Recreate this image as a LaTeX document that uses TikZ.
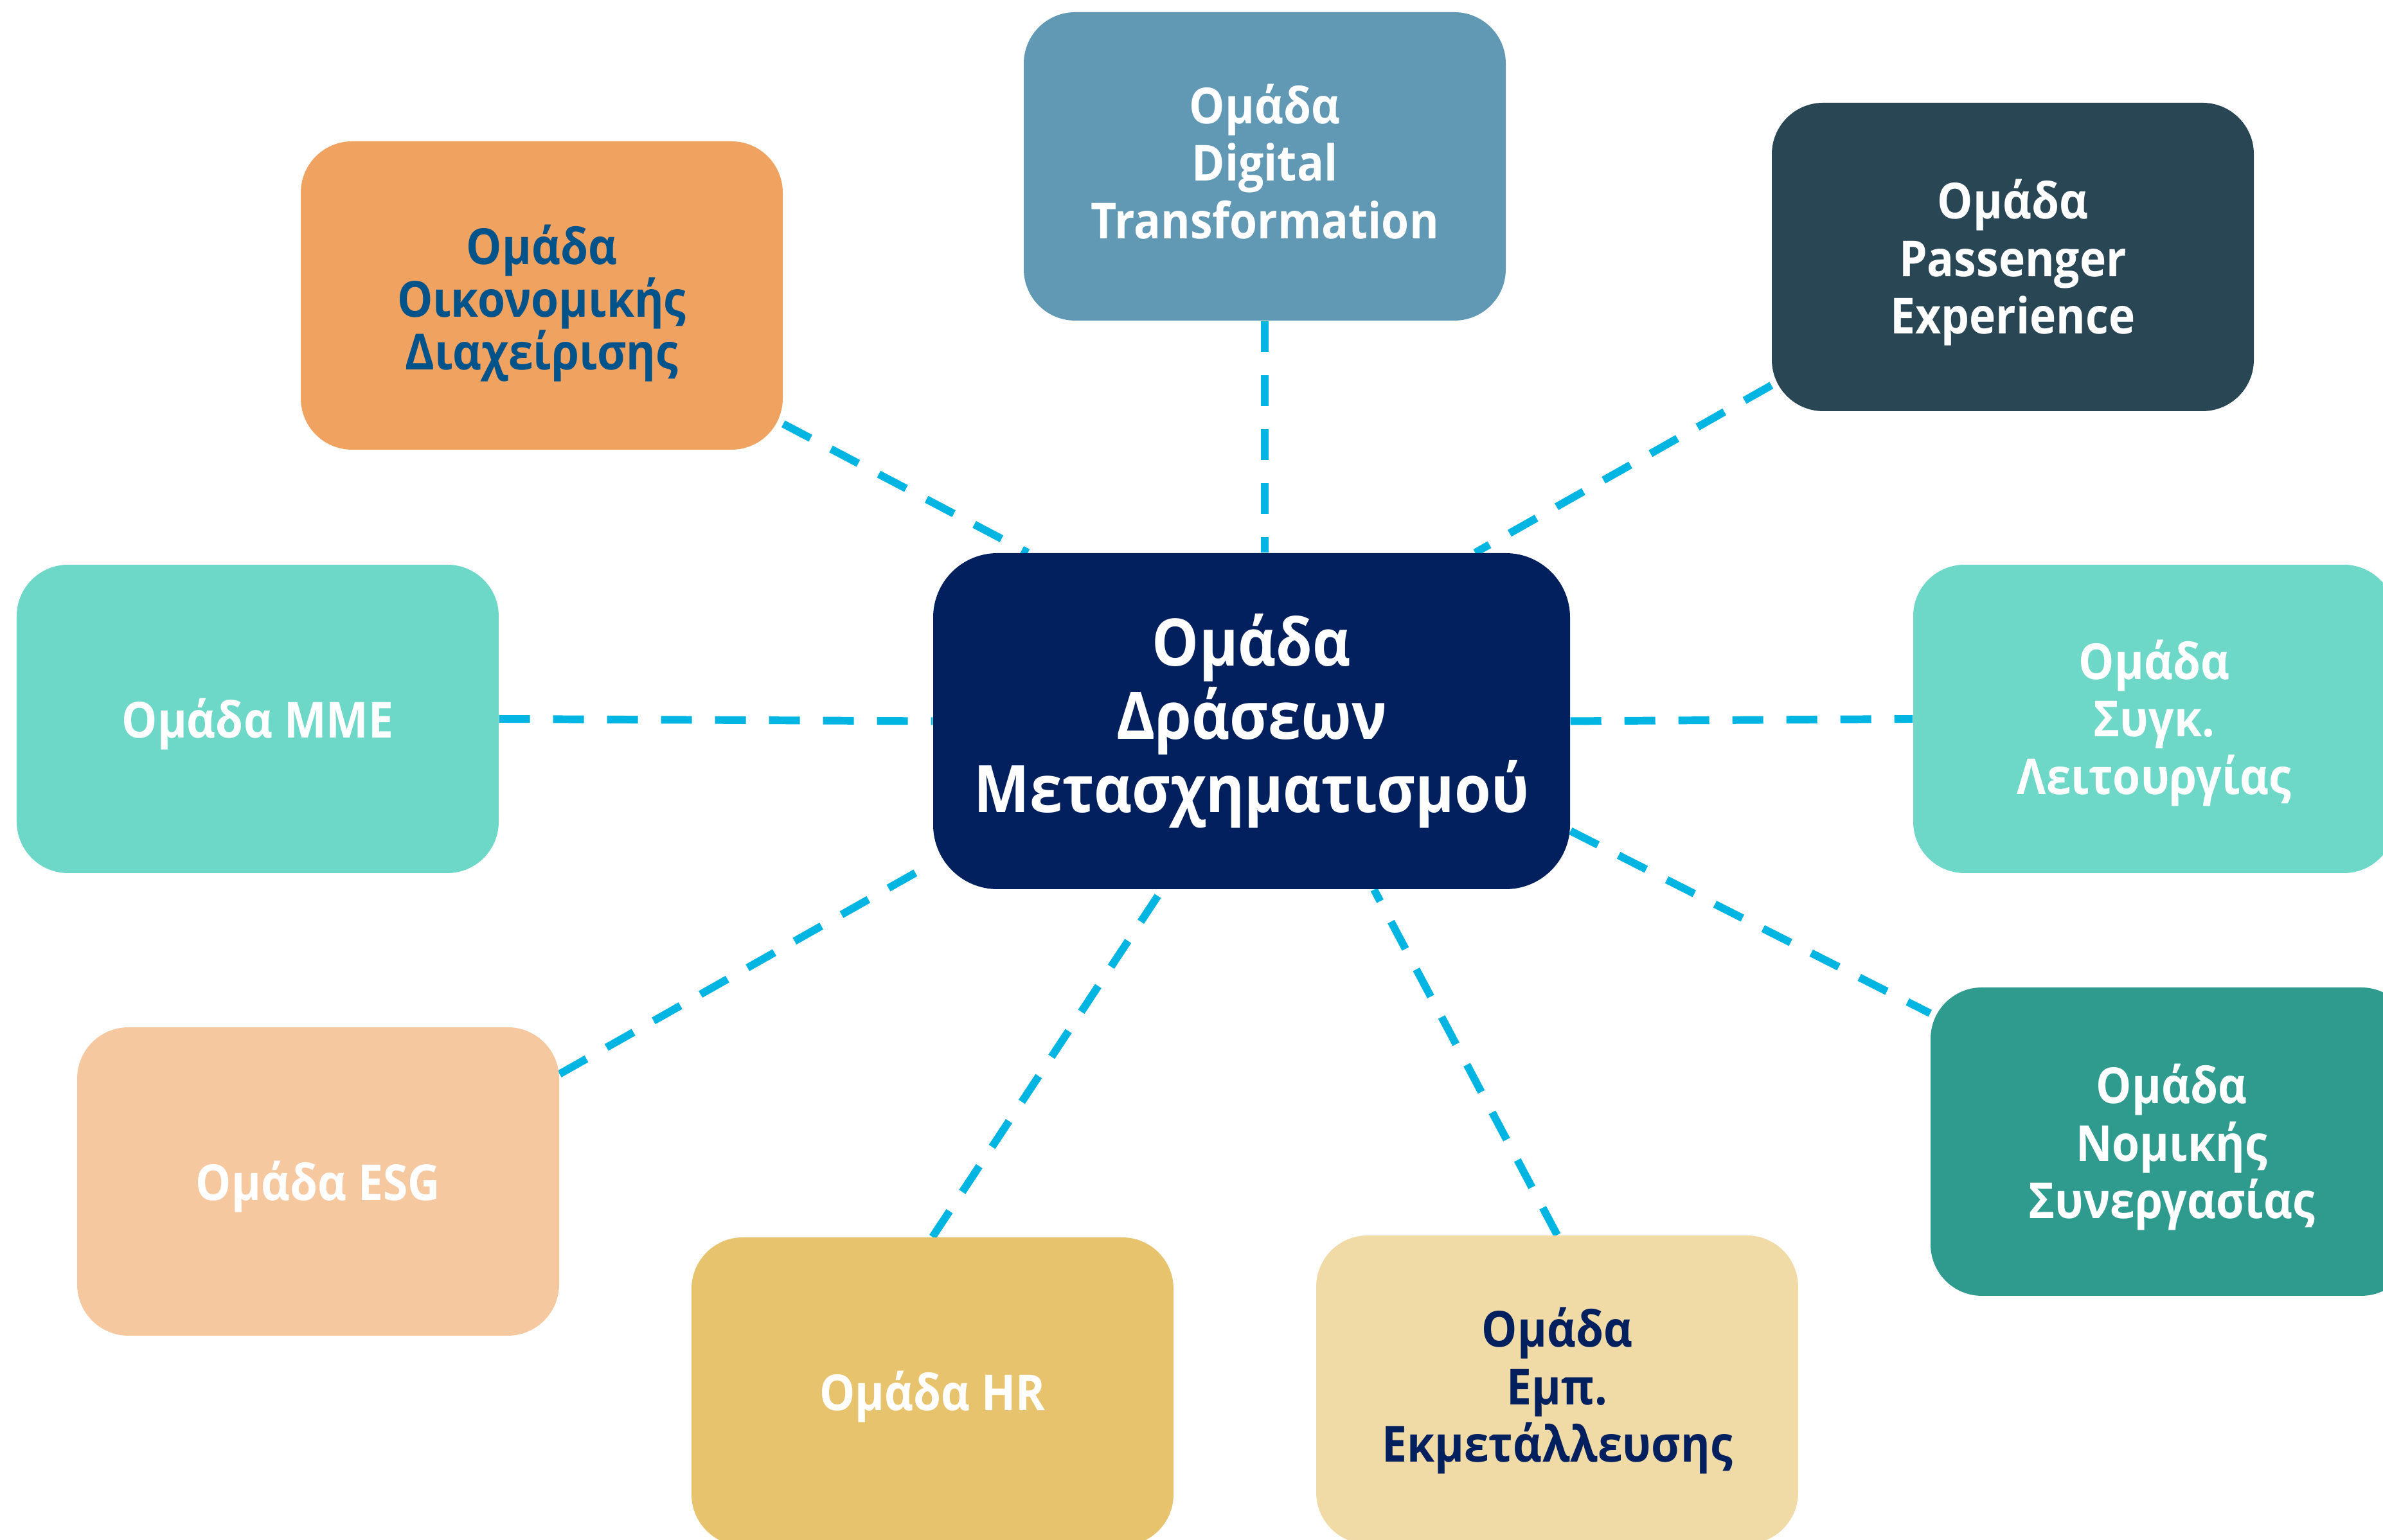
\documentclass[tikz,border=0pt]{standalone}
\usepackage{fontspec}
\setmainfont{Open Sans}[FakeStretch=0.9]
\usetikzlibrary{backgrounds}

\definecolor{navy}{HTML}{021F5E}
\definecolor{steel}{HTML}{6199B5}
\definecolor{slate}{HTML}{284654}
\definecolor{orange}{HTML}{F0A360}
\definecolor{finblue}{HTML}{01538A}
\definecolor{aqua}{HTML}{6DD8C8}
\definecolor{teal}{HTML}{2E9B8E}
\definecolor{peach}{HTML}{F6C8A0}
\definecolor{gold}{HTML}{E7C36E}
\definecolor{sand}{HTML}{F0DBA6}
\definecolor{linkblue}{HTML}{00B5E2}

% invisible strut on the first line, pushes the text a little down
\newcommand{\padtop}[1]{\rule{0pt}{#1}}

\tikzset{
  team/.style={rounded corners=0.8cm, minimum width=7.5cm, minimum height=4.8cm,
    inner sep=0pt, align=center, text=white,
    font=\fontsize{22}{25.5}\selectfont\bfseries},
  hub/.style={rounded corners=1cm, minimum width=9.91cm, minimum height=5.23cm,
    inner sep=0pt, align=center, text=white, fill=navy,
    font=\fontsize{29}{32.4}\selectfont\bfseries},
  link/.style={draw=linkblue, line width=3.4pt, dash pattern=on 0.48cm off 0.36cm},
}

\begin{document}
\begin{tikzpicture}
\useasboundingbox (0,0) rectangle (37.08,23.97);

% central group
\node[hub] (ctr) at (19.475,12.745) {Ομάδα\\Δράσεων\\Μετασχηματισμού};

% top row
\node[team, fill=orange, text=finblue, font=\fontsize{22}{23.3}\selectfont\bfseries]
  (fin) at (8.43,19.37) {\padtop{0.86cm}Ομάδα\\Οικονομικής\\Διαχείρισης};
\node[team, fill=steel, execute at end node={\rule[-0.16cm]{0pt}{0pt}}]
  (dig) at (19.68,21.38) {Ομάδα\\Digital\\Transformation};
\node[team, fill=slate] (pax) at (31.32,19.97) {\padtop{0.79cm}Ομάδα\\Passenger\\Experience};

% middle row
\node[team, fill=aqua] (mme) at (4.01,12.78) {\padtop{0.78cm}Ομάδα ΜΜΕ};
\node[team, fill=aqua] (ops) at (33.52,12.78) {\padtop{0.74cm}Ομάδα\\Συγκ.\\Λειτουργίας};

% bottom row
\node[team, fill=peach] (esg) at (4.95,5.58) {\padtop{0.78cm}Ομάδα ESG};
\node[team, fill=gold] (hr) at (14.51,2.31) {\padtop{0.78cm}Ομάδα HR};
\node[team, fill=sand, text=navy] (com) at (24.23,2.34) {\padtop{0.65cm}Ομάδα\\Εμπ.\\Εκμετάλλευσης};
\node[team, fill=teal] (leg) at (33.79,6.20) {\padtop{0.79cm}Ομάδα\\Νομικής\\Συνεργασίας};

% dashed links
\begin{scope}[on background layer]
  \draw[link] (fin.-28) -- (ctr.143);
  \draw[link] (dig.south) -- (dig.south |- ctr.north);
  \draw[link] (pax.208) -- (ctr.37);
  \draw[link] (mme.east) -- (ctr.west);
  \draw[link] (ctr.east) -- (ops.west);
  \draw[link] (ctr.-19) -- (leg.152);
  \draw[link] (esg.24) -- (ctr.204);
  \draw[link] (hr.north) -- (ctr.242);
  \draw[link] (com.north) -- (ctr.-54);
\end{scope}
\end{tikzpicture}
\end{document}
